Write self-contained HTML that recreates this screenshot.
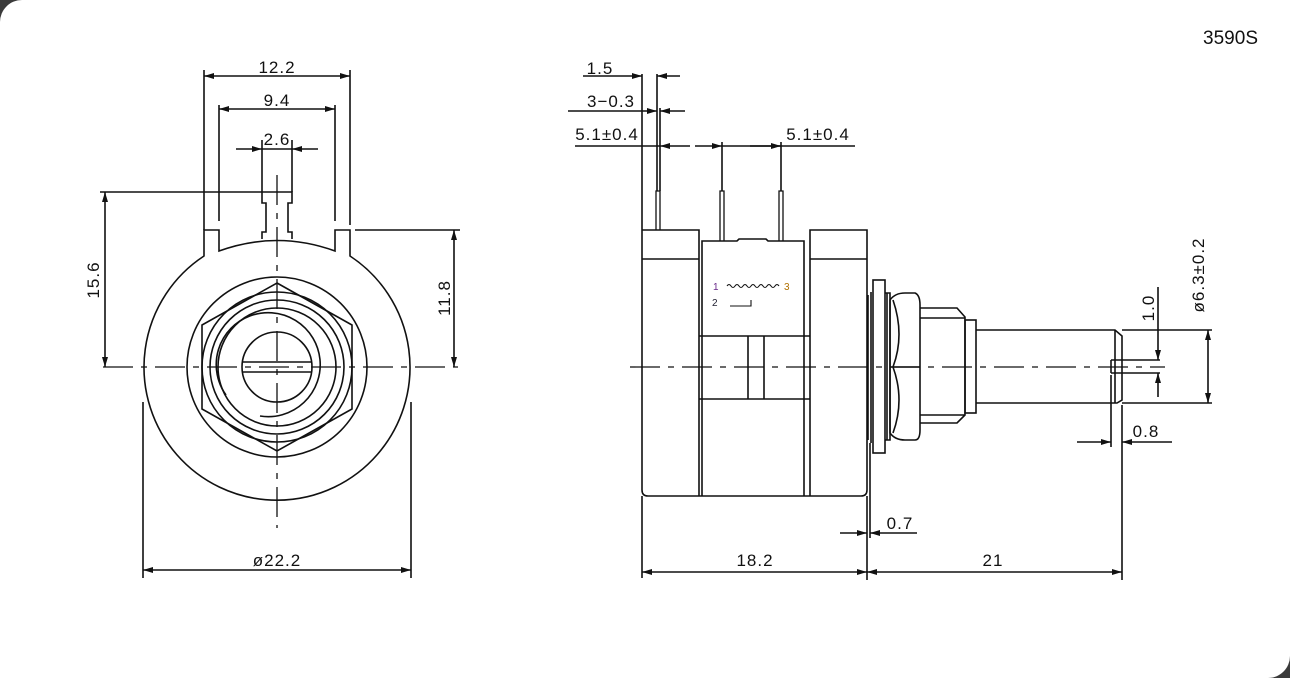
<!DOCTYPE html>
<html><head><meta charset="utf-8"><style>
html,body{margin:0;padding:0;background:#3b3b3b;}
.p{position:absolute;left:0;top:0;width:1290px;height:678px;background:#fff;border-radius:22px 0 22px 0;overflow:hidden}
svg{position:absolute;left:0;top:0}
text{font-family:"Liberation Sans",sans-serif;font-size:17px;fill:#111;letter-spacing:1px}
</style></head><body>
<div class="p">
<svg width="1290" height="678" viewBox="0 0 1290 678">
<defs>
<marker id="a" viewBox="0 0 10 6" refX="10" refY="3" markerWidth="11" markerHeight="6" markerUnits="userSpaceOnUse" orient="auto-start-reverse"><path d="M0,0L10,3L0,6z" fill="#111"/></marker>
</defs>
<text x="1258" y="44" text-anchor="end" style="font-size:19px;letter-spacing:0">3590S</text>
<g stroke="#111" stroke-width="1.6" fill="none">
<!-- LEFT VIEW -->
<path d="M204,230 V256 A133,133 0 1 0 350,256 V230 H335 V251 Q277,230 219,251 V230 Z" fill="none"/>
<path d="M262,239 V232 H266 V203 H262 V192 H292 V203 H288 V232 H292 V239"/>
<circle cx="277" cy="367" r="90"/>
<polygon points="277,283 352,325 352,409 277,451 202,409 202,325"/>
<circle cx="277" cy="367" r="75"/>
<circle cx="277" cy="367" r="67"/>
<circle cx="277" cy="367" r="59"/>
<path d="M226,395 A52,52 0 1 1 260,416"/>
<circle cx="277" cy="367" r="35"/>
<path d="M242,362 H312 M242,372 H312"/>
<path d="M103,367 H458" stroke-dasharray="30,8,6,8" stroke-width="1.3"/>
<path d="M277,175 V528" stroke-dasharray="30,8,6,8" stroke-width="1.3"/>
<!-- dims left -->
<path d="M204,70 V230 M350,70 V225 M219,105 V221 M335,105 V221 M262,140 V192 M292,140 V192"/>
<path d="M204,76 H350" marker-start="url(#a)" marker-end="url(#a)"/>
<path d="M219,109 H335" marker-start="url(#a)" marker-end="url(#a)"/>
<path d="M236,149 H262" marker-end="url(#a)"/><path d="M318,149 H292" marker-end="url(#a)"/>
<path d="M262,149 H292"/>
<path d="M100,192 H262"/>
<path d="M105,192 V367" marker-start="url(#a)" marker-end="url(#a)"/>
<path d="M355,230 H460"/>
<path d="M454,230 V367" marker-start="url(#a)" marker-end="url(#a)"/>
<path d="M143,402 V578 M411,402 V578"/>
<path d="M143,570 H411" marker-start="url(#a)" marker-end="url(#a)"/>
<!-- RIGHT VIEW body -->
<path d="M642,230 H699 V496 M642,230 V490 Q642,496 648,496 H861 Q867,496 867,490 V230 H810 V496"/>
<path d="M642,259 H699 M810,259 H867"/>
<path d="M702,496 V241 H737 L739,239 H766 L768,241 H804 V496"/>
<path d="M699,336 H810 M699,399 H810 M748,336 V399 M764,336 V399"/>
<!-- pins -->
<path d="M656,230 V191 H660 V230 M720,241 V191 H724 V241 M779,241 V191 H783 V241" stroke-width="1.3"/>
<path d="M642,74 V230 M657,74 V191 M660,108 V191 M722,142 V191 M781,142 V191"/>
<path d="M583,76 H642" marker-end="url(#a)"/><path d="M680,76 H657" marker-end="url(#a)"/>
<path d="M568,111 H657" marker-end="url(#a)"/><path d="M685,111 H660" marker-end="url(#a)"/>
<path d="M575,146 H660 M722,146 H855"/>
<path d="M690,146 H660" marker-end="url(#a)"/><path d="M695,146 H722" marker-end="url(#a)"/>
<path d="M750,146 H781" marker-end="url(#a)"/>
<!-- schematic -->
<path d="M727,286 q2,-3 4,0 t4,0 t4,0 t4,0 t4,0 t4,0 t4,0 t4,0 t4,0 t4,0 t4,0 t4,0 t4,0" stroke-width="1.1"/>
<path d="M730,306 H751 V300" stroke-width="1.1"/>
<!-- shaft assembly -->
<path d="M868,295 V440 M871,292 V443"/>
<rect x="873" y="280" width="12" height="173"/>
<path d="M885,293 H890 V440 H885 M887,293 V440"/>
<path d="M890,300 Q895,293 905,293 H915 Q920,295 920,305 V430 Q920,440 915,440 H905 Q895,440 890,433 Z"/>
<path d="M890,367 H920 M893,300 Q905,335 893,367 Q905,400 893,433"/>
<path d="M920,308 H957 L965,317 V415 L957,423 H920 M920,318 H965 M920,415 H965"/>
<rect x="965" y="320" width="11" height="93"/>
<path d="M976,330 H1115 L1122,336 V400 L1117,403 H976"/>
<path d="M1115,330 V403"/>
<path d="M1111,360 H1160 M1111,373 H1160 M1111,360 V373"/>
<path d="M630,367 H1165" stroke-dasharray="30,8,6,8" stroke-width="1.3"/>
<!-- right dims -->
<path d="M1122,330 H1212 M1122,403 H1212"/>
<path d="M1208,330 V403" marker-start="url(#a)" marker-end="url(#a)"/>
<path d="M1158,287 V360" marker-end="url(#a)"/><path d="M1158,397 V373" marker-end="url(#a)"/>
<path d="M1111,375 V447 M1122,405 V580"/>
<path d="M1077,442 H1111" marker-end="url(#a)"/><path d="M1172,442 H1122" marker-end="url(#a)"/>
<path d="M870,443 V538"/>
<path d="M840,533 H867" marker-end="url(#a)"/><path d="M917,533 H870" marker-end="url(#a)"/>
<path d="M642,496 V578 M867,496 V580"/>
<path d="M642,572 H867" marker-start="url(#a)" marker-end="url(#a)"/>
<path d="M867,572 H1122" marker-start="url(#a)" marker-end="url(#a)"/>
</g>
<text x="277" y="73" text-anchor="middle">12.2</text>
<text x="277" y="106" text-anchor="middle">9.4</text>
<text x="277" y="145" text-anchor="middle">2.6</text>
<text transform="translate(99,280) rotate(-90)" text-anchor="middle">15.6</text>
<text transform="translate(450,298) rotate(-90)" text-anchor="middle">11.8</text>
<text x="277" y="566" text-anchor="middle">ø22.2</text>
<text x="600" y="74" text-anchor="middle">1.5</text>
<text x="611" y="107" text-anchor="middle">3−0.3</text>
<text x="607" y="140" text-anchor="middle">5.1±0.4</text>
<text x="818" y="140" text-anchor="middle">5.1±0.4</text>
<text x="713" y="290" style="font-size:10px;fill:#6a2a8a">1</text>
<text x="784" y="290" style="font-size:10px;fill:#b07000">3</text>
<text x="712" y="306" style="font-size:10px;fill:#223">2</text>
<text x="900" y="529" text-anchor="middle">0.7</text>
<text x="755" y="566" text-anchor="middle">18.2</text>
<text x="993" y="566" text-anchor="middle">21</text>
<text x="1146" y="437" text-anchor="middle">0.8</text>
<text transform="translate(1154,308) rotate(-90)" text-anchor="middle">1.0</text>
<text transform="translate(1204,275) rotate(-90)" text-anchor="middle">ø6.3±0.2</text>
</svg>
</div>
</body></html>
